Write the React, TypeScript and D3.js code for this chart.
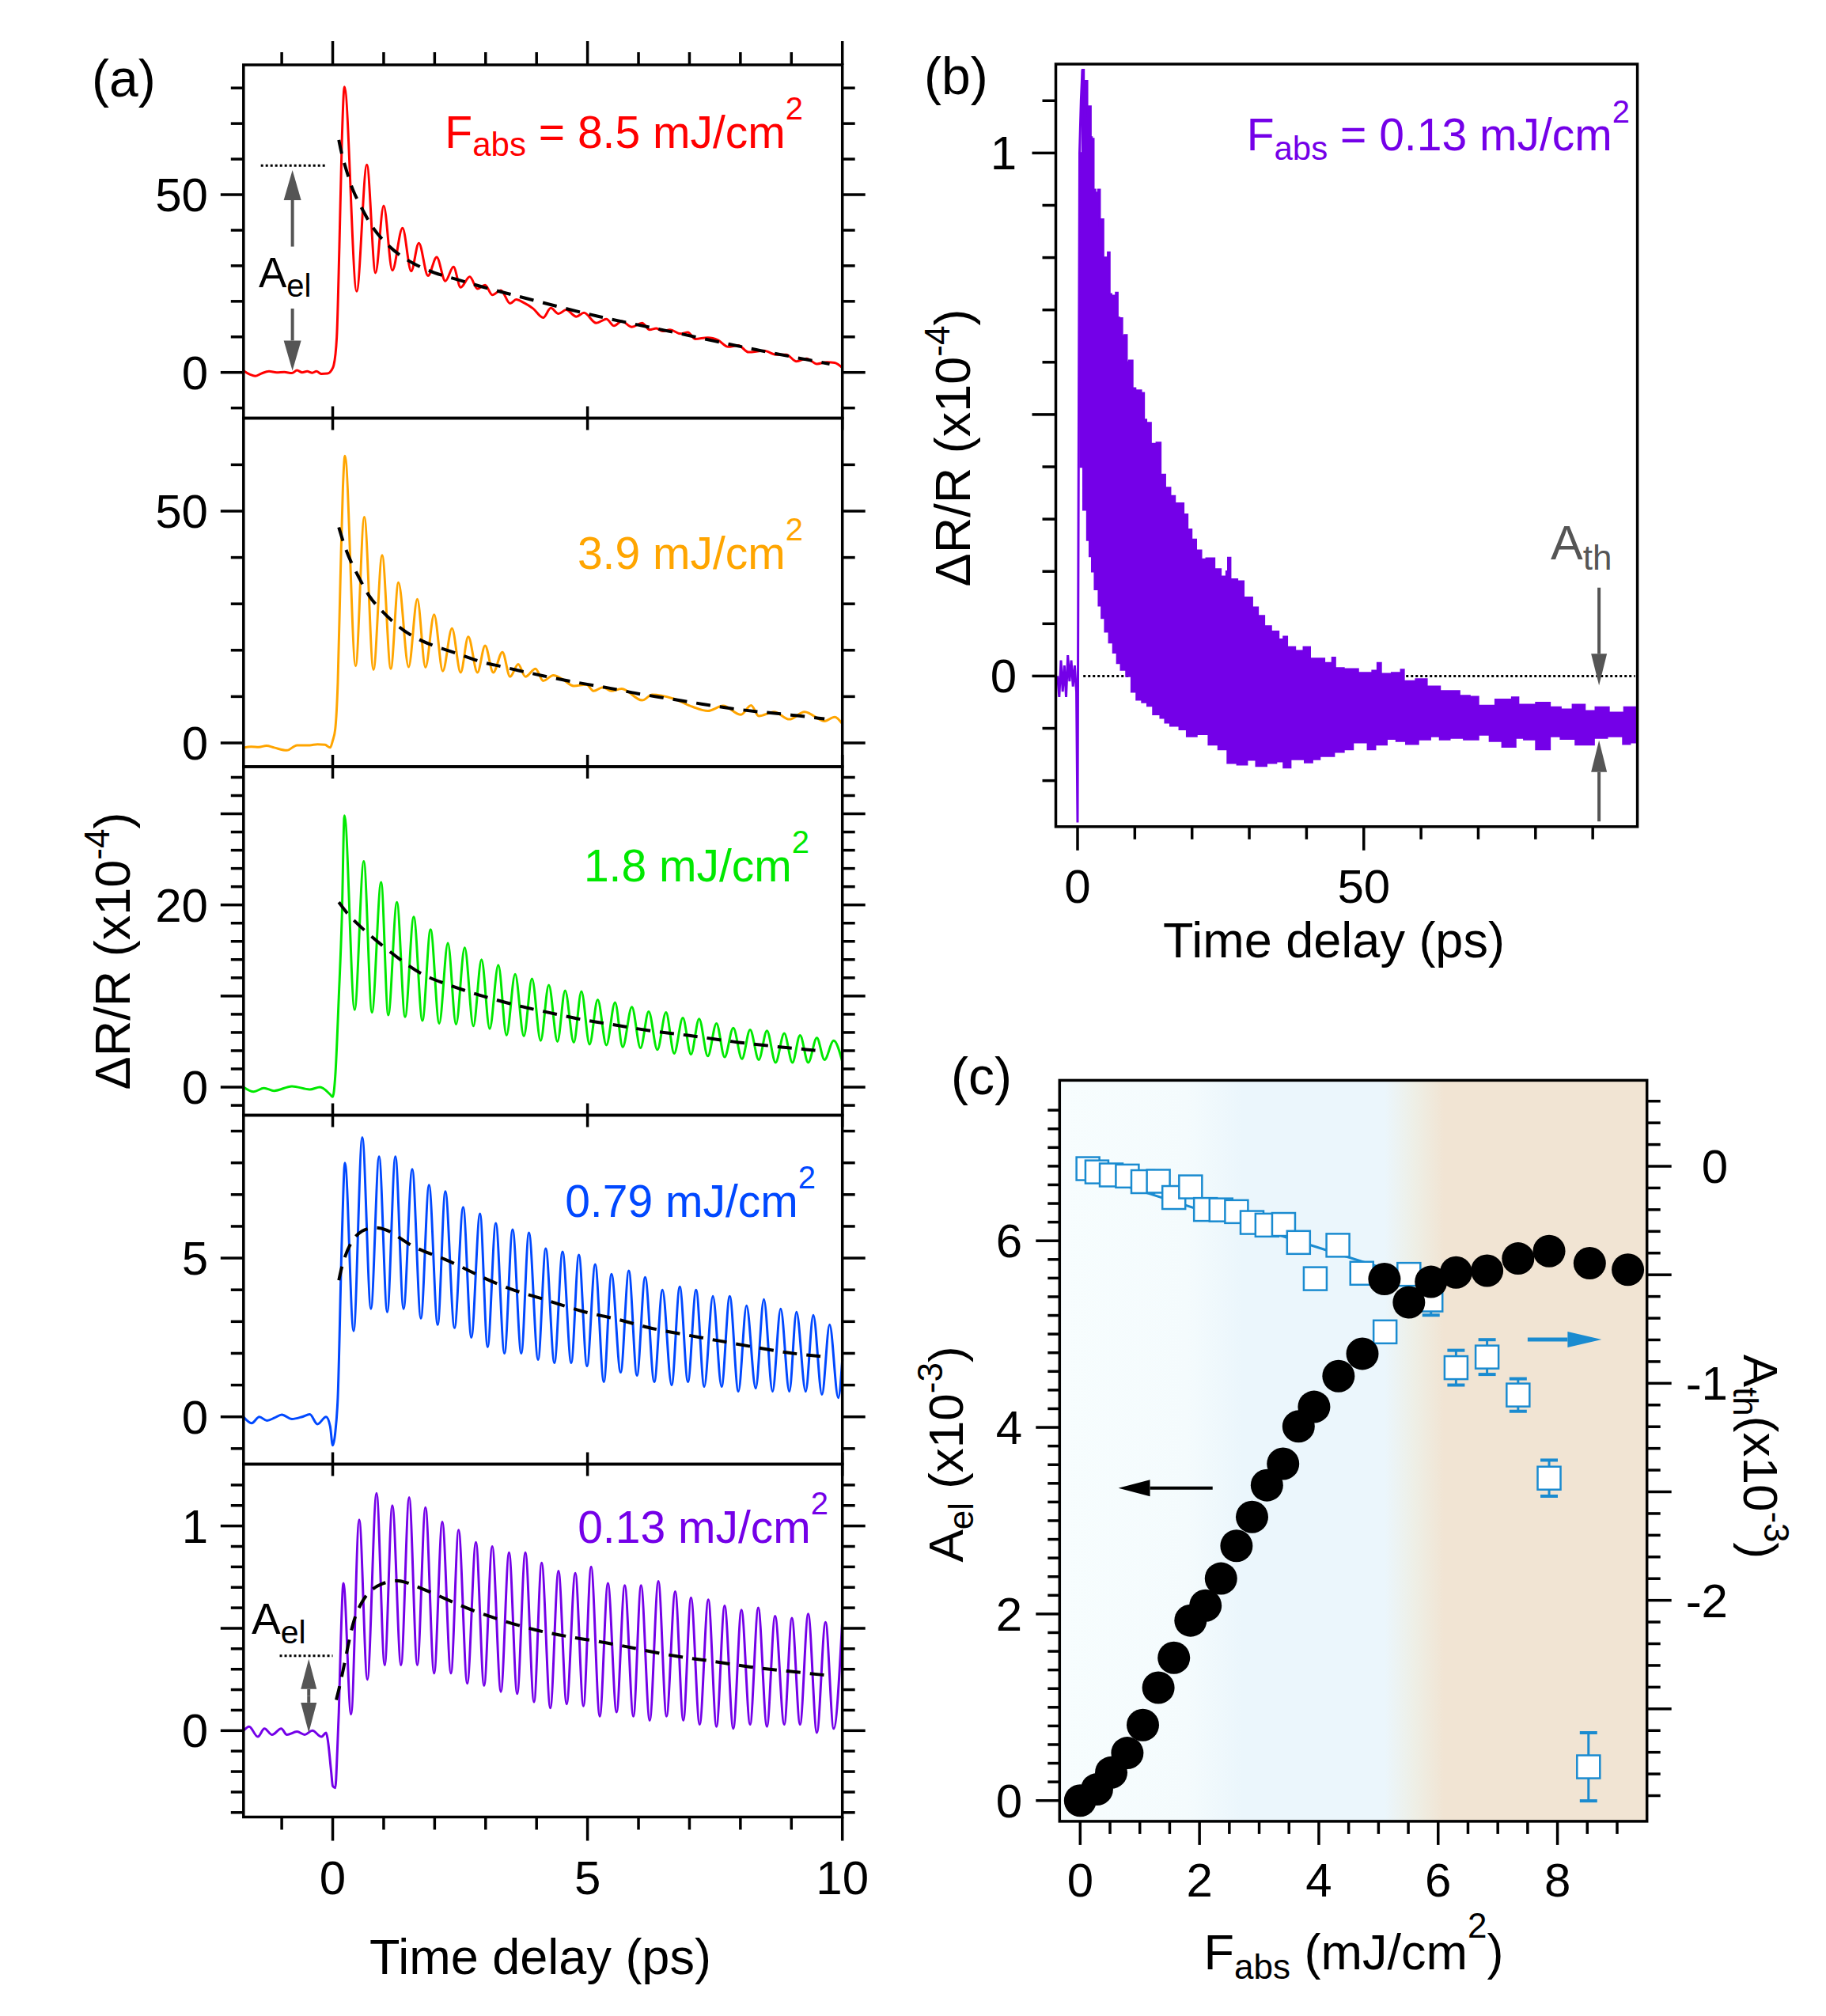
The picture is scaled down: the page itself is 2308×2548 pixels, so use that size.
import React from 'react';
import * as d3 from 'd3';

// panel (a): transients, [delay (ps), dR/R (1e-4)], read at the extrema of the oscillation
const trace85 = [[-1.75,0.5],[-1.62,-0.6],[-1.52,-1.0],[-1.4,-0.3],[-1.25,0.3],[-1.1,0.0],[-0.95,0.1],[-0.8,-0.2],[-0.7,0.6],[-0.6,0.0],[-0.5,0.3],[-0.4,-0.1],[-0.32,0.3],[-0.22,-0.4],[-0.1,-0.3],[-0.03,0.5],[0.02,2.0],[0.08,10],[0.13,35],[0.18,65],[0.23,80.3],[0.47,22.8],[0.67,58.4],[0.84,28.0],[1.0,46.9],[1.17,28.7],[1.37,40.6],[1.54,28.5],[1.69,36.4],[1.87,27.2],[2.04,32.4],[2.21,25.7],[2.37,29.7],[2.51,23.9],[2.69,26.9],[2.84,23.5],[2.99,24.6],[3.13,21.8],[3.30,23.1],[3.48,19.4],[3.60,20.5],[3.75,19.6],[3.93,18.0],[4.13,15.4],[4.28,18.1],[4.43,16.5],[4.58,17.6],[4.78,15.7],[4.93,16.8],[5.17,13.9],[5.37,15.0],[5.52,13.1],[5.67,14.4],[5.87,12.8],[6.07,13.9],[6.22,12.0],[6.35,12.4],[6.47,11.6],[6.62,12.0],[6.82,10.9],[6.97,11.3],[7.11,9.4],[7.36,9.8],[7.56,9.1],[7.76,7.2],[7.96,7.6],[8.16,5.7],[8.46,6.1],[8.71,5.0],[8.90,5.0],[9.10,3.1],[9.30,3.9],[9.50,2.4],[9.70,2.9],[9.85,2.7],[10,1.3]];
const fit85 = [[0.12,65.4],[0.18,61.0],[0.30,55.4],[0.40,50.8],[0.60,45.4],[0.75,41.3],[1.0,36.8],[1.29,33.1],[1.59,30.5],[1.99,27.9],[2.39,26.4],[2.89,24.2],[3.48,22.0],[4.18,19.4],[4.98,16.5],[5.57,14.6],[6.47,12.0],[7.56,8.6],[8.26,6.5],[9.15,4.0],[9.75,2.4]];

const trace39 = [[-1.75,-1.0],[-1.6,-0.8],[-1.45,-0.9],[-1.3,-0.6],[-1.15,-1.0],[-0.9,-1.6],[-0.7,-0.5],[-0.45,-0.5],[-0.3,-0.3],[-0.15,-0.4],[-0.05,-1.0],[0.0,0.5],[0.05,3],[0.1,13],[0.15,35],[0.2,55],[0.24,61.9],[0.45,16.6],[0.62,48.7],[0.80,15.8],[0.97,40.5],[1.14,16.0],[1.29,34.6],[1.49,16.4],[1.66,31.0],[1.82,16.3],[1.99,27.7],[2.16,15.5],[2.34,24.7],[2.51,15.2],[2.66,22.9],[2.84,15.2],[2.99,21.0],[3.15,15.2],[3.33,19.6],[3.48,14.3],[3.64,17.0],[3.78,14.3],[3.98,16.0],[4.13,13.4],[4.33,14.6],[4.50,13.8],[4.73,12.3],[4.98,12.6],[5.12,11.2],[5.30,12.0],[5.47,11.2],[5.67,11.7],[6.07,9.2],[6.27,10.4],[6.67,9.6],[7.06,7.8],[7.36,6.9],[7.66,8.0],[8.01,6.1],[8.21,8.1],[8.36,5.8],[8.66,6.7],[8.96,5.1],[9.26,6.7],[9.65,4.7],[9.85,5.6],[10,4.1]];
const fit39 = [[0.12,46.5],[0.22,42.8],[0.35,39.1],[0.53,35.4],[0.70,31.7],[0.92,28.9],[1.19,26.0],[1.44,23.8],[1.74,22.0],[2.04,20.7],[2.44,19.3],[2.69,18.3],[2.99,17.2],[3.28,16.6],[3.68,15.5],[4.08,14.6],[4.68,13.2],[5.47,11.8],[5.97,10.6],[6.47,9.8],[6.97,8.9],[7.46,8.0],[7.96,7.2],[8.46,6.6],[8.96,6.1],[9.65,5.2]];

const trace18 = [[-1.75,0],[-1.55,-0.5],[-1.35,-0.1],[-1.15,-0.4],[-0.8,0.1],[-0.45,-0.25],[-0.25,0.0],[-0.05,-0.8],[0.0,-1.07],[0.05,1.2],[0.12,9.9],[0.18,18.6],[0.23,29.8],[0.43,8.5],[0.61,24.8],[0.77,8.2],[0.95,22.5],[1.09,7.9],[1.26,20.3],[1.42,7.7],[1.59,18.7],[1.76,7.3],[1.92,17.3],[2.09,7.0],[2.26,15.8],[2.42,6.9],[2.59,15.3],[2.76,6.7],[2.92,14.0],[3.08,6.4],[3.25,13.4],[3.41,5.7],[3.58,12.4],[3.75,5.6],[3.91,11.9],[4.08,5.1],[4.24,11.2],[4.41,5.0],[4.56,10.6],[4.73,4.9],[4.88,10.5],[5.04,4.7],[5.20,9.6],[5.37,4.6],[5.54,9.3],[5.69,4.4],[5.87,8.8],[6.04,4.3],[6.20,8.3],[6.37,4.1],[6.54,8.2],[6.70,3.7],[6.87,7.6],[7.03,3.6],[7.19,7.5],[7.36,3.4],[7.53,7.0],[7.69,3.3],[7.86,6.5],[8.03,3.1],[8.19,6.3],[8.36,3.0],[8.52,6.2],[8.69,2.7],[8.86,5.9],[9.02,2.7],[9.17,5.7],[9.33,2.7],[9.50,5.4],[9.65,3.0],[9.83,5.1],[10,2.8]];
const fit18 = [[0.12,20.3],[0.30,18.9],[0.60,17.3],[1.0,15.4],[1.39,13.7],[1.79,12.2],[2.19,11.4],[2.59,10.6],[2.99,9.9],[3.58,9.0],[3.98,8.5],[4.48,7.9],[4.98,7.3],[5.47,6.9],[5.97,6.4],[6.47,6.0],[6.97,5.7],[7.46,5.3],[7.96,4.9],[8.46,4.6],[8.96,4.3],[9.55,4.0]];

const trace079 = [[-1.75,0],[-1.59,-0.2],[-1.44,0],[-1.29,-0.12],[-1.14,-0.03],[-1.0,0.07],[-0.8,-0.07],[-0.6,0.0],[-0.45,0.08],[-0.3,-0.23],[-0.13,0.0],[-0.05,-0.3],[0.0,-0.9],[0.05,-0.5],[0.1,0.6],[0.18,5.6],[0.24,8.0],[0.41,2.7],[0.58,8.8],[0.75,3.4],[0.91,8.2],[1.07,3.3],[1.23,8.2],[1.39,3.4],[1.56,7.8],[1.73,3.1],[1.89,7.3],[2.06,2.9],[2.21,7.1],[2.39,2.8],[2.56,6.6],[2.72,2.5],[2.89,6.4],[3.04,2.2],[3.20,6.1],[3.37,2.0],[3.53,5.9],[3.70,2.0],[3.85,5.8],[4.03,1.8],[4.18,5.3],[4.35,1.7],[4.51,5.2],[4.68,1.7],[4.83,5.1],[4.99,1.6],[5.15,4.8],[5.32,1.1],[5.47,4.5],[5.65,1.4],[5.81,4.6],[5.97,1.3],[6.13,4.4],[6.31,1.1],[6.47,4.0],[6.65,1.0],[6.81,4.1],[6.97,1.1],[7.13,4.0],[7.29,0.95],[7.46,3.8],[7.63,0.95],[7.79,3.8],[7.96,0.8],[8.12,3.5],[8.30,0.9],[8.46,3.7],[8.63,0.8],[8.79,3.4],[8.96,0.8],[9.10,3.3],[9.28,0.8],[9.43,3.2],[9.60,0.7],[9.75,2.9],[9.92,0.6],[10,1.8]];
const fit079 = [[0.12,4.3],[0.20,4.9],[0.35,5.5],[0.55,5.9],[0.90,6.0],[1.19,5.8],[1.59,5.3],[2.19,5.0],[2.79,4.5],[3.48,4.0],[4.18,3.7],[4.88,3.3],[5.57,3.1],[6.17,2.8],[6.87,2.6],[7.56,2.4],[8.26,2.2],[8.96,2.0],[9.60,1.9]];

const trace013 = [[-1.75,0],[-1.64,0.02],[-1.47,-0.03],[-1.34,0.01],[-1.19,-0.02],[-1.01,0.01],[-0.9,-0.02],[-0.7,-0.005],[-0.55,-0.02],[-0.4,0.0],[-0.22,-0.03],[-0.13,-0.01],[-0.1,-0.04],[-0.03,-0.2],[0.0,-0.27],[0.05,-0.28],[0.09,-0.1],[0.12,0.09],[0.16,0.45],[0.21,0.72],[0.36,0.08],[0.52,1.03],[0.68,0.25],[0.86,1.16],[1.02,0.32],[1.17,1.10],[1.34,0.32],[1.50,1.14],[1.66,0.32],[1.82,1.09],[1.99,0.28],[2.15,1.02],[2.32,0.28],[2.47,0.98],[2.64,0.23],[2.81,0.92],[2.97,0.22],[3.13,0.90],[3.30,0.19],[3.46,0.87],[3.62,0.18],[3.78,0.87],[3.95,0.14],[4.10,0.82],[4.27,0.11],[4.43,0.78],[4.59,0.13],[4.76,0.77],[4.92,0.12],[5.07,0.80],[5.24,0.07],[5.40,0.72],[5.57,0.09],[5.73,0.71],[5.90,0.07],[6.05,0.71],[6.22,0.05],[6.39,0.73],[6.55,0.07],[6.72,0.68],[6.88,0.05],[7.03,0.65],[7.20,0.03],[7.37,0.64],[7.53,0.02],[7.69,0.61],[7.86,0.01],[8.02,0.59],[8.19,0.03],[8.35,0.60],[8.52,0.02],[8.68,0.56],[8.86,0.03],[9.01,0.55],[9.17,0.03],[9.33,0.57],[9.50,-0.01],[9.67,0.53],[9.83,0.01],[10,0.54]];
const fit013 = [[0.07,0.15],[0.15,0.23],[0.25,0.35],[0.40,0.54],[0.55,0.62],[0.70,0.68],[0.95,0.72],[1.29,0.74],[1.59,0.71],[1.99,0.67],[2.59,0.60],[3.28,0.54],[3.98,0.49],[4.58,0.46],[5.37,0.43],[5.97,0.40],[6.77,0.36],[7.46,0.34],[8.16,0.31],[8.96,0.29],[9.70,0.27]];

const fluenceTags = ['8.5', '3.9', '1.8', '0.79', '0.13'];

// panel (b): long scan at 0.13 mJ/cm2, [delay (ps), dR/R (1e-4)]
const bBefore = [[-3.5,0.0],[-3.2,-0.04],[-2.9,0.03],[-2.6,-0.03],[-2.3,0.02],[-2.0,-0.04],[-1.7,0.04],[-1.4,-0.01],[-1.1,0.03],[-0.8,-0.02],[-0.5,0.02],[-0.2,-0.03],[0.0,-0.28],[0.15,0.3],[0.35,1.0],[0.6,1.1],[0.84,1.159]];
// upper and lower edges of the noise band
const bUpper = [[0.5,1.0],[0.84,1.159],[1.1,1.12],[1.42,1.138],[1.7,1.07],[2.0,1.089],[2.3,1.03],[2.5,1.027],[2.8,0.93],[3.1,0.924],[3.6,0.93],[3.9,0.86],[4.2,0.873],[4.5,0.80],[4.8,0.80],[5.3,0.81],[5.6,0.73],[5.9,0.727],[6.7,0.733],[7.0,0.685],[7.3,0.684],[7.8,0.65],[8.2,0.652],[8.6,0.60],[9.0,0.603],[9.6,0.55],[10.1,0.546],[11.1,0.541],[11.6,0.49],[12.0,0.484],[12.8,0.444],[13.8,0.446],[14.5,0.385],[15.3,0.36],[16.2,0.344],[17.0,0.33],[18.5,0.309],[19.2,0.28],[19.9,0.261],[20.7,0.24],[21.6,0.223],[22.5,0.225],[23.9,0.204],[25.0,0.19],[26.0,0.20],[26.3,0.226],[26.7,0.185],[27.9,0.181],[29.0,0.15],[30.5,0.131],[31.5,0.115],[32.6,0.095],[33.8,0.085],[35.1,0.070],[36.0,0.075],[36.6,0.055],[38.0,0.048],[39.5,0.055],[40.6,0.033],[43.1,0.025],[44.5,0.035],[45.0,0.015],[46.5,0.013],[49.0,0.006],[51.5,0.01],[52.4,0.025],[53.0,0.004],[54.9,0.006],[56.5,0.012],[57.0,-0.01],[59.1,-0.006],[61.0,-0.02],[63.3,-0.029],[66.7,-0.038],[68.5,-0.04],[70.0,-0.057],[73.0,-0.045],[75.9,-0.041],[77.0,-0.055],[80.1,-0.051],[82.5,-0.06],[84.4,-0.064],[86.5,-0.055],[88.6,-0.067],[90.5,-0.06],[92.8,-0.070],[95.5,-0.06],[97.4,-0.067]];
const bLower = [[0.5,0.75],[1.0,0.40],[1.67,0.318],[2.1,0.26],[2.52,0.229],[3.0,0.2],[3.69,0.166],[4.2,0.135],[4.79,0.111],[5.5,0.085],[6.22,0.064],[6.9,0.045],[7.57,0.025],[8.5,0.012],[9.42,0.0],[10.3,-0.03],[11.27,-0.045],[12.2,-0.05],[13.2,-0.057],[14.47,-0.073],[15.3,-0.08],[16.2,-0.089],[17.8,-0.095],[19.1,-0.102],[20.8,-0.115],[22.9,-0.111],[24.6,-0.131],[26.2,-0.140],[27.9,-0.166],[29.6,-0.169],[31.2,-0.16],[33.0,-0.172],[34.7,-0.166],[36.0,-0.163],[37.2,-0.175],[39.7,-0.159],[41.0,-0.165],[42.3,-0.159],[44.8,-0.153],[46.5,-0.145],[48.1,-0.140],[50.7,-0.127],[52.0,-0.14],[54.0,-0.131],[55.7,-0.12],[57.4,-0.124],[59.5,-0.13],[61.6,-0.121],[63.3,-0.115],[65.0,-0.121],[67.5,-0.118],[70.0,-0.121],[72.0,-0.112],[74.2,-0.124],[76.5,-0.135],[78.0,-0.118],[80.1,-0.121],[82.5,-0.14],[84.4,-0.115],[87.0,-0.12],[90.2,-0.131],[92.5,-0.118],[95.3,-0.115],[96.5,-0.13],[97.4,-0.127]];

// panel (c): amplitudes vs absorbed fluence
const fluenceEl = [0.0, 0.28, 0.52, 0.79, 1.05, 1.31, 1.57, 1.85, 2.10, 2.36, 2.62, 2.88, 3.13, 3.40, 3.66, 3.92, 4.33, 4.73, 5.10, 5.51, 5.88, 6.30, 6.82, 7.34, 7.86, 8.54, 9.18];
const aEl = [0.0, 0.12, 0.30, 0.51, 0.81, 1.21, 1.53, 1.93, 2.09, 2.38, 2.73, 3.04, 3.38, 3.61, 4.01, 4.22, 4.55, 4.79, 5.59, 5.34, 5.56, 5.66, 5.68, 5.81, 5.89, 5.76, 5.69];
const fluenceTh = [0.13, 0.28, 0.52, 0.79, 1.05, 1.31, 1.57, 1.85, 2.10, 2.36, 2.62, 2.88, 3.13, 3.41, 3.66, 3.94, 4.32, 4.72, 5.11, 5.51, 5.88, 6.30, 6.82, 7.34, 7.86, 8.52];
const aTh = [-0.011, -0.026, -0.040, -0.045, -0.071, -0.069, -0.144, -0.095, -0.199, -0.201, -0.209, -0.259, -0.271, -0.268, -0.351, -0.518, -0.364, -0.493, -0.763, -0.498, -0.616, -0.928, -0.879, -1.054, -1.437, -2.767];
const aThErr = [0.01, 0.01, 0.01, 0.01, 0.01, 0.01, 0.01, 0.01, 0.01, 0.01, 0.01, 0.01, 0.015, 0.015, 0.015, 0.02, 0.02, 0.02, 0.03, 0.04, 0.07, 0.08, 0.08, 0.075, 0.083, 0.157];
const thFitF = [0.13, 5.1];
const thFitV = [-0.036, -0.472];

const FONT = "'Liberation Sans', Arial, Helvetica, sans-serif";
const AX = 3.5;
const GREY = '#555555';
const CBLUE = '#1a8bd0';
const PURPLE = '#7400e8';

const xA = d3.scaleLinear().domain([-1.75, 10]).range([307.8, 1064.7]);

const panelsA = [
  { trace: trace85, fit: fit85, color: '#ff0000', domain: [-12.86, 86.5], top: 82, bottom: 528.5, step: 10, major: [0, 50], labels: [0, 50], tagX: 1015, tagY: 187 },
  { trace: trace39, fit: fit39, color: '#ffa500', domain: [-5.12, 70.05], top: 528.5, bottom: 969, step: 10, major: [0, 50], labels: [0, 50], tagX: 1015, tagY: 719 },
  { trace: trace18, fit: fit18, color: '#00e800', domain: [-3.08, 35.17], top: 969, bottom: 1409.5, step: 2, major: [0, 10, 20, 30], labels: [0, 20], tagX: 1023, tagY: 1114 },
  { trace: trace079, fit: fit079, color: '#0048ff', domain: [-1.49, 9.5], top: 1409.5, bottom: 1850.5, step: 1, major: [0, 5], labels: [0, 5], tagX: 1031, tagY: 1538 },
  { trace: trace013, fit: fit013, color: PURPLE, domain: [-0.422, 1.302], top: 1850.5, bottom: 2296.5, step: 0.1, major: [0, 0.5, 1], labels: [0, 1], tagX: 1047, tagY: 1950 },
];

function steps(a: number, b: number, step: number) {
  const i0 = Math.ceil(a / step - 1e-9), i1 = Math.floor(b / step + 1e-9);
  return d3.range(i0, i1 + 1).map((k) => +(k * step).toFixed(6));
}
const near = (list: number[], v: number) => list.some((m) => Math.abs(m - v) < 1e-6);

function Arrow({ x1, y1, x2, y2, color, w = 4, head = 38, hw = 11 }: any) {
  const dx = x2 - x1, dy = y2 - y1, len = Math.hypot(dx, dy);
  const ux = dx / len, uy = dy / len;
  const bx = x2 - ux * head, by = y2 - uy * head;
  const px = -uy, py = ux;
  return (
    <g>
      <line x1={x1} y1={y1} x2={bx} y2={by} stroke={color} strokeWidth={w} />
      <polygon points={`${x2},${y2} ${bx + px * hw},${by + py * hw} ${bx - px * hw},${by - py * hw}`} fill={color} />
    </g>
  );
}

function PanelA({ p, first, last, idx }: any) {
  const y = d3.scaleLinear().domain(p.domain).range([p.bottom, p.top]);
  const [L, R] = xA.range();
  const line = d3.line<number[]>().x((d) => xA(d[0])).y((d) => y(d[1])).curve(d3.curveMonotoneX);
  const fitLine = d3.line<number[]>().x((d) => xA(d[0])).y((d) => y(d[1])).curve(d3.curveBasis);
  const yt = steps(p.domain[0], p.domain[1], p.step).filter((v) => y(v) > p.top + 4 && y(v) < p.bottom - 3);
  const xt = steps(-1, 10, 1);
  return (
    <g>
      <path d={line(p.trace) || ''} fill="none" stroke={p.color} strokeWidth={3} strokeLinejoin="round" />
      <path d={fitLine(p.fit) || ''} fill="none" stroke="#000" strokeWidth={4} strokeDasharray="18 12" />
      <rect x={L} y={p.top} width={R - L} height={p.bottom - p.top} fill="none" stroke="#000" strokeWidth={AX} />
      {yt.map((v) => {
        const len = near(p.major, v) ? 29 : 16;
        return (
          <g key={v}>
            <line x1={L - len} x2={L} y1={y(v)} y2={y(v)} stroke="#000" strokeWidth={AX} />
            <line x1={R} x2={R + len} y1={y(v)} y2={y(v)} stroke="#000" strokeWidth={AX} />
          </g>
        );
      })}
      {p.labels.map((v: number) => (
        <text key={v} x={263} y={y(v) + 21} textAnchor="end" fontSize={60}>{v}</text>
      ))}
      {first
        ? xt.map((t) => (
            <line key={t} x1={xA(t)} x2={xA(t)} y1={p.top} y2={p.top - (near([0, 5, 10], t) ? 30 : 16)} stroke="#000" strokeWidth={AX} />
          ))
        : [0, 5, 10].map((t) => (
            <line key={t} x1={xA(t)} x2={xA(t)} y1={p.top - 15} y2={p.top + 15} stroke="#000" strokeWidth={AX} />
          ))}
      {last &&
        xt.map((t) => (
          <line key={'b' + t} x1={xA(t)} x2={xA(t)} y1={p.bottom} y2={p.bottom + (near([0, 5, 10], t) ? 30 : 16)} stroke="#000" strokeWidth={AX} />
        ))}
      <text x={p.tagX} y={p.tagY} textAnchor="end" fontSize={57} fill={p.color}>
        {idx === 0 && (
          <>
            F<tspan fontSize={42} dy={10}>abs</tspan>
            <tspan dy={-10}>{' = '}</tspan>
          </>
        )}
        {fluenceTags[idx] + ' mJ/cm'}
        <tspan fontSize={40} dy={-36}>2</tspan>
      </text>
    </g>
  );
}

export default function App() {
  const W = 2308, H = 2548;
  const ys = panelsA.map((p) => d3.scaleLinear().domain(p.domain).range([p.bottom, p.top]));
  const y1 = ys[0], y5 = ys[4];

  // panel (b)
  const xB = d3.scaleLinear().domain([-3.8, 97.8]).range([1334.5, 2069.6]);
  const yB = d3.scaleLinear().domain([-0.288, 1.17]).range([1044.8, 81]);
  const bLine = d3.line<number[]>().x((d) => xB(d[0])).y((d) => yB(d[1]));
  const upPath = d3.line<number[]>().x((d) => xB(d[0])).y((d) => yB(d[1])).curve(d3.curveStepAfter)(bUpper) || '';
  const loPath = d3.line<number[]>().x((d) => xB(d[0])).y((d) => yB(d[1])).curve(d3.curveStepAfter)(bLower.slice().reverse()) || '';
  const bandD = upPath + 'L' + loPath.slice(1) + 'Z';
  const [bL, bR] = xB.range();
  const [bBot, bTop] = yB.range();

  // panel (c)
  const xC = d3.scaleLinear().domain([-0.345, 9.5]).range([1339.3, 2081.7]);
  const yCL = d3.scaleLinear().domain([-0.222, 7.72]).range([2301.9, 1365.4]);
  const yCR = d3.scaleLinear().domain([-3.018, 0.396]).range([2301.9, 1365.4]);
  const [cL, cR] = xC.range();
  const [cBot, cTop] = yCL.range();
  const off = (f: number) => (f - xC.domain()[0]) / (xC.domain()[1] - xC.domain()[0]);
  const gradStops: [number, string][] = [
    [-0.345, '#f7fdfe'], [1.8, '#f4fbfd'], [2.7, '#ebf6fc'], [5.1, '#ebf6fc'], [5.6, '#eeefe6'], [6.1, '#f1e4d3'], [9.5, '#f1e4d3'],
  ];
  const sq = 29;

  return (
    <svg width={W} height={H} style={{ position: 'absolute', left: 0, top: 0, display: 'block' }} fontFamily={FONT}>
      <rect width={W} height={H} fill="#fff" />

      {/* ---------- panel (a) ---------- */}
      {panelsA.map((p, i) => (
        <PanelA key={i} p={p} idx={i} first={i === 0} last={i === panelsA.length - 1} />
      ))}
      {/* A_el markers, top panel */}
      <line x1={xA(-1.41)} x2={xA(-0.14)} y1={y1(58.2)} y2={y1(58.2)} stroke="#000" strokeWidth={3} strokeDasharray="3 3" />
      <Arrow x1={xA(-0.79)} y1={y1(35.4)} x2={xA(-0.79)} y2={y1(56.9)} color={GREY} />
      <Arrow x1={xA(-0.79)} y1={y1(17.96)} x2={xA(-0.79)} y2={y1(0.5)} color={GREY} />
      <text x={327} y={363} fontSize={53}>A<tspan fontSize={40} dy={12}>el</tspan></text>
      {/* A_el markers, bottom panel */}
      <line x1={xA(-1.04)} x2={xA(0)} y1={y5(0.366)} y2={y5(0.366)} stroke="#000" strokeWidth={3} strokeDasharray="3 3" />
      <Arrow x1={xA(-0.47)} y1={y5(0.17)} x2={xA(-0.47)} y2={y5(0.35)} color={GREY} head={38} hw={10} />
      <Arrow x1={xA(-0.47)} y1={y5(0.17)} x2={xA(-0.47)} y2={y5(-0.01)} color={GREY} head={38} hw={10} />
      <text x={318} y={2065} fontSize={55}>A<tspan fontSize={41} dy={12}>el</tspan></text>

      {[0, 5, 10].map((t) => (
        <text key={t} x={xA(t)} y={2394} textAnchor="middle" fontSize={60}>{t}</text>
      ))}
      <text x={683} y={2495} textAnchor="middle" fontSize={63}>Time delay (ps)</text>
      <text transform="translate(164,1202) rotate(-90)" textAnchor="middle" fontSize={63}>
        ΔR/R (x10<tspan fontSize={44} dy={-26}>-4</tspan><tspan dy={26}>)</tspan>
      </text>
      <text x={116} y={122} fontSize={66}>(a)</text>

      {/* ---------- panel (b) ---------- */}
      <line x1={xB(1)} x2={xB(97.4)} y1={yB(0)} y2={yB(0)} stroke="#000" strokeWidth={3} strokeDasharray="3 3" />
      <path d={bandD} fill={PURPLE} stroke={PURPLE} strokeWidth={2.5} strokeLinejoin="miter" />
      <path d={bLine(bBefore) || ''} fill="none" stroke={PURPLE} strokeWidth={3} />
      <rect x={bL} y={bTop} width={bR - bL} height={bBot - bTop} fill="none" stroke="#000" strokeWidth={AX} />
      {steps(-0.2, 1.1, 0.1).map((v) => (
        <line key={v} x1={bL - (near([0, 0.5, 1], v) ? 30 : 17)} x2={bL} y1={yB(v)} y2={yB(v)} stroke="#000" strokeWidth={AX} />
      ))}
      {steps(0, 90, 10).map((t) => (
        <line key={t} x1={xB(t)} x2={xB(t)} y1={bBot} y2={bBot + (near([0, 50], t) ? 30 : 16)} stroke="#000" strokeWidth={AX} />
      ))}
      {[0, 1].map((v) => (
        <text key={v} x={1285} y={yB(v) + 21} textAnchor="end" fontSize={60}>{v}</text>
      ))}
      {[0, 50].map((t) => (
        <text key={t} x={xB(t)} y={1141} textAnchor="middle" fontSize={60}>{t}</text>
      ))}
      <text x={1686} y={1210} textAnchor="middle" fontSize={63}>Time delay (ps)</text>
      <text transform="translate(1226,566) rotate(-90)" textAnchor="middle" fontSize={63}>
        ΔR/R (x10<tspan fontSize={44} dy={-26}>-4</tspan><tspan dy={26}>)</tspan>
      </text>
      <text x={2060} y={190} textAnchor="end" fontSize={57} fill={PURPLE}>
        F<tspan fontSize={42} dy={12}>abs</tspan><tspan dy={-12}>{' = 0.13 mJ/cm'}</tspan><tspan fontSize={40} dy={-35}>2</tspan>
      </text>
      <text x={1960} y={707} fontSize={61} fill={GREY}>A<tspan fontSize={44} dy={13}>th</tspan></text>
      <Arrow x1={xB(91.1)} y1={yB(0.169)} x2={xB(91.1)} y2={yB(-0.018)} color={GREY} head={40} hw={10} />
      <Arrow x1={xB(91.1)} y1={yB(-0.278)} x2={xB(91.1)} y2={yB(-0.123)} color={GREY} head={40} hw={10} />
      <text x={1168} y={119} fontSize={66}>(b)</text>

      {/* ---------- panel (c) ---------- */}
      <defs>
        <linearGradient id="bgC" gradientUnits="userSpaceOnUse" x1={cL} x2={cR} y1={0} y2={0}>
          {gradStops.map(([f, c]) => (
            <stop key={f} offset={off(f)} stopColor={c} />
          ))}
        </linearGradient>
      </defs>
      <rect x={cL} y={cTop} width={cR - cL} height={cBot - cTop} fill="url(#bgC)" />
      {fluenceTh.map((f, i) => (
        <g key={f} stroke={CBLUE} strokeWidth={3}>
          <line x1={xC(f)} x2={xC(f)} y1={yCR(aTh[i] - aThErr[i])} y2={yCR(aTh[i] + aThErr[i])} />
          <line x1={xC(f) - 11} x2={xC(f) + 11} y1={yCR(aTh[i] - aThErr[i])} y2={yCR(aTh[i] - aThErr[i])} strokeWidth={4} />
          <line x1={xC(f) - 11} x2={xC(f) + 11} y1={yCR(aTh[i] + aThErr[i])} y2={yCR(aTh[i] + aThErr[i])} strokeWidth={4} />
        </g>
      ))}
      <line x1={xC(thFitF[0])} x2={xC(thFitF[1])} y1={yCR(thFitV[0])} y2={yCR(thFitV[1])} stroke={CBLUE} strokeWidth={3} />
      {fluenceTh.map((f, i) => (
        <rect key={f} x={xC(f) - sq / 2} y={yCR(aTh[i]) - sq / 2} width={sq} height={sq} fill="#fff" stroke={CBLUE} strokeWidth={2.5} />
      ))}
      {fluenceEl.map((f, i) => (
        <circle key={f} cx={xC(f)} cy={yCL(aEl[i])} r={20.5} fill="#000" />
      ))}
      <rect x={cL} y={cTop} width={cR - cL} height={cBot - cTop} fill="none" stroke="#000" strokeWidth={AX} />
      {steps(0, 7.4, 0.2).map((v) => (
        <line key={v} x1={cL - (near([0, 2, 4, 6], v) ? 30 : 15)} x2={cL} y1={yCL(v)} y2={yCL(v)} stroke="#000" strokeWidth={AX} />
      ))}
      {steps(-2.9, 0.3, 0.1).map((v) => (
        <line key={v} x1={cR} x2={cR + (Math.abs(v * 2 - Math.round(v * 2)) < 1e-6 ? 31 : 17)} y1={yCR(v)} y2={yCR(v)} stroke="#000" strokeWidth={AX} />
      ))}
      {steps(0, 9, 0.5).map((t) => (
        <line key={t} x1={xC(t)} x2={xC(t)} y1={cBot} y2={cBot + (near([0, 2, 4, 6, 8], t) ? 30 : 16)} stroke="#000" strokeWidth={AX} />
      ))}
      {[0, 2, 4, 6].map((v) => (
        <text key={v} x={1292} y={yCL(v) + 21} textAnchor="end" fontSize={60}>{v}</text>
      ))}
      {[0, -1, -2].map((v) => (
        <text key={v} x={2184} y={yCR(v) + 21} textAnchor="end" fontSize={60}>{v}</text>
      ))}
      {[0, 2, 4, 6, 8].map((t) => (
        <text key={t} x={xC(t)} y={2397} textAnchor="middle" fontSize={60}>{t}</text>
      ))}
      <Arrow x1={xC(2.22)} y1={yCL(3.35)} x2={xC(0.64)} y2={yCL(3.35)} color="#000" head={40} hw={10.5} />
      <Arrow x1={xC(7.5)} y1={yCR(-0.798)} x2={xC(8.74)} y2={yCR(-0.798)} color={CBLUE} w={5} head={43} hw={10} />
      <text x={1711} y={2489} textAnchor="middle" fontSize={63}>
        F<tspan fontSize={44} dy={12}>abs</tspan><tspan dy={-12}>{' (mJ/cm'}</tspan><tspan fontSize={44} dy={-40}>2</tspan><tspan dy={40}>)</tspan>
      </text>
      <text transform="translate(1217,1838) rotate(-90)" textAnchor="middle" fontSize={62}>
        A<tspan fontSize={44} dy={13}>el</tspan><tspan dy={-13}>{' (x10'}</tspan><tspan fontSize={44} dy={-26}>-3</tspan><tspan dy={26}>)</tspan>
      </text>
      <text transform="translate(2204,1841) rotate(90)" textAnchor="middle" fontSize={62}>
        A<tspan fontSize={44} dy={13}>th</tspan><tspan dy={-13}>(x10</tspan><tspan fontSize={44} dy={-26}>-3</tspan><tspan dy={26}>)</tspan>
      </text>
      <text x={1202} y={1383} fontSize={66}>(c)</text>
    </svg>
  );
}
